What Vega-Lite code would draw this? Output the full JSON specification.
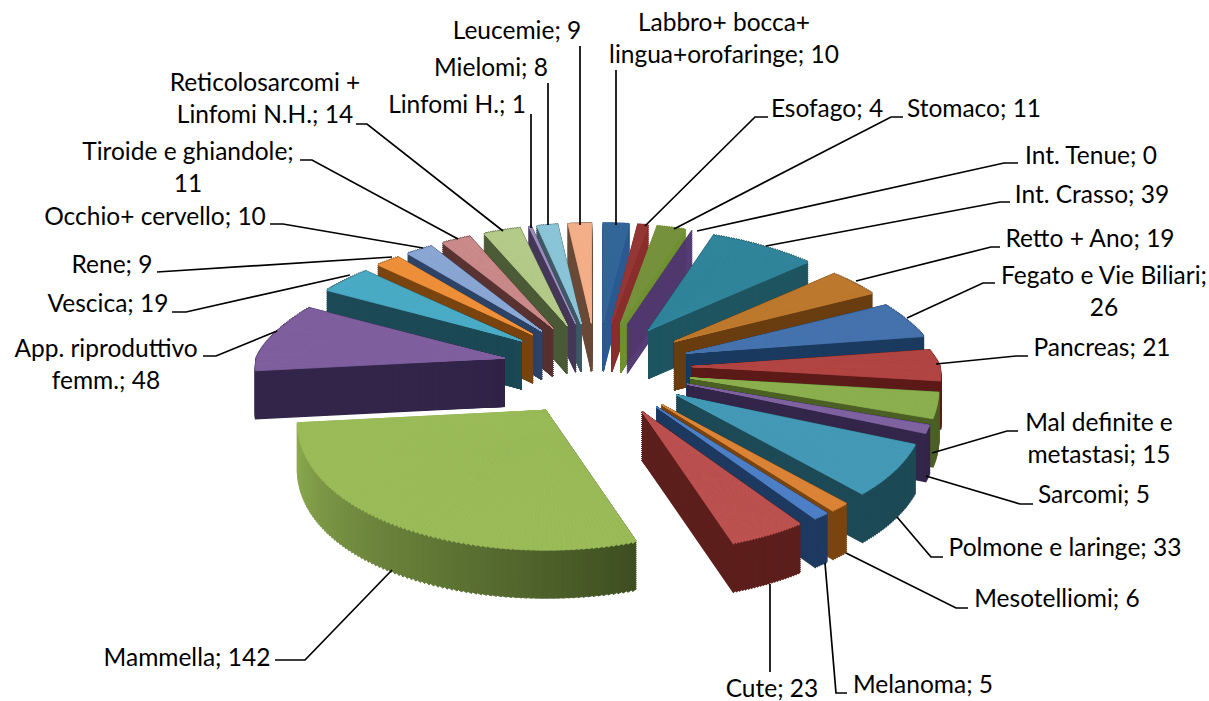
{
"$schema":"https://vega.github.io/schema/vega-lite/v6.json",
"width":1209,"height":701,"padding":0,"autosize":"none","background":"white",
"config":{"view":{"stroke":null}},
"params":[
{"name":"labelPos","value":{"Labbro":[724,24],"Esofago":[827,110],"Stomaco":[974,110],"Int. Tenue":[1091,157],"Int. Crasso":[1092,196],"Retto + Ano":[1090,240],"Fegato e Vie Biliari":[1104,277],"Pancreas":[1102,349],"Mal definite e metastasi":[1099,424],"Sarcomi":[1094,496],"Polmone e laringe":[1065,549],"Mesotelliomi":[1057,600],"Melanoma":[923,686],"Cute":[772,690],"Mammella":[187,659],"App. riproduttivo femm.":[106,350],"Vescica":[108,305],"Rene":[112,266],"Occhio+ cervello":[155,218],"Tiroide e ghiandole":[188,153],"Reticolosarcomi + Linfomi N.H.":[265,84],"Linfomi H.":[457,106],"Mielomi":[491,69],"Leucemie":[517,32]}},
{"name":"leaderPts","value":{"Labbro":[[616,70],[616,70],[616,225]],"Esofago":[[768,117],[755,117],[645,226]],"Stomaco":[[903,117],[891,117],[674,229]],"Int. Tenue":[[1018,163],[1004,163],[697,231]],"Int. Crasso":[[1010,202],[1000,202],[766,246]],"Retto + Ano":[[1000,247],[991,247],[856,281]],"Fegato e Vie Biliari":[[995,283],[983,283],[907,318]],"Pancreas":[[1028,356],[1016,356],[936,364]],"Mal definite e metastasi":[[1018,431],[1007,431],[932,453]],"Sarcomi":[[1033,504],[1020,504],[926,476]],"Polmone e laringe":[[943,557],[931,557],[897,517]],"Mesotelliomi":[[968,608],[956,608],[846,553]],"Melanoma":[[847,693],[836,693],[825,563]],"Cute":[[770,672],[770,672],[770,584]],"Mammella":[[275,660],[305,660],[392,570]],"App. riproduttivo femm.":[[203,356],[216,356],[277,331]],"Vescica":[[172,312],[186,312],[350,275]],"Rene":[[157,272],[157,272],[392,257]],"Occhio+ cervello":[[270,224],[283,224],[423,248]],"Tiroide e ghiandole":[[300,160],[312,160],[458,239]],"Reticolosarcomi + Linfomi N.H.":[[356,124],[367,124],[503,231]],"Linfomi H.":[[531,114],[531,114],[531,228]],"Mielomi":[[548,83],[548,83],[548,225]],"Leucemie":[[580,46],[580,46],[580,225]]}}
],
"datasets":{"slices":[
{"name":"Labbro","value":10,"label":"Labbro+ bocca+\nlingua+orofaringe; 10"},
{"name":"Esofago","value":4,"label":"Esofago; 4"},
{"name":"Stomaco","value":11,"label":"Stomaco; 11"},
{"name":"Int. Tenue","value":0,"label":"Int. Tenue; 0"},
{"name":"Int. Crasso","value":39,"label":"Int. Crasso; 39"},
{"name":"Retto + Ano","value":19,"label":"Retto + Ano; 19"},
{"name":"Fegato e Vie Biliari","value":26,"label":"Fegato e Vie Biliari;\n26"},
{"name":"Pancreas","value":21,"label":"Pancreas; 21"},
{"name":"Mal definite e metastasi","value":15,"label":"Mal definite e\nmetastasi; 15"},
{"name":"Sarcomi","value":5,"label":"Sarcomi; 5"},
{"name":"Polmone e laringe","value":33,"label":"Polmone e laringe; 33"},
{"name":"Mesotelliomi","value":6,"label":"Mesotelliomi; 6"},
{"name":"Melanoma","value":5,"label":"Melanoma; 5"},
{"name":"Cute","value":23,"label":"Cute; 23"},
{"name":"Mammella","value":142,"label":"Mammella; 142"},
{"name":"App. riproduttivo femm.","value":48,"label":"App. riproduttivo\nfemm.; 48"},
{"name":"Vescica","value":19,"label":"Vescica; 19"},
{"name":"Rene","value":9,"label":"Rene; 9"},
{"name":"Occhio+ cervello","value":10,"label":"Occhio+ cervello; 10"},
{"name":"Tiroide e ghiandole","value":11,"label":"Tiroide e ghiandole;\n11"},
{"name":"Reticolosarcomi + Linfomi N.H.","value":14,"label":"Reticolosarcomi +\nLinfomi N.H.; 14"},
{"name":"Linfomi H.","value":1,"label":"Linfomi H.; 1"},
{"name":"Mielomi","value":8,"label":"Mielomi; 8"},
{"name":"Leucemie","value":9,"label":"Leucemie; 9"}
]},
"data":{"name":"slices"},
"transform":[
{"stack":"value","groupby":[],"as":["s0","s1"]},
{"joinaggregate":[{"op":"sum","field":"value","as":"total"}]},
{"calculate":"datum.s0/datum.total*2*PI","as":"t0"},
{"calculate":"datum.s1/datum.total*2*PI","as":"t1"},
{"calculate":"(datum.t0+datum.t1)/2","as":"tc"},
{"calculate":"min(96,ceil(datum.value)+1)","as":"n"},
{"calculate":"597+95*sin(datum.tc)","as":"cx"},
{"calculate":"368-(cos(datum.tc)>0?45:50)*cos(datum.tc)","as":"cy"},
{"calculate":"[0,1,2,3,4,5,6,7,8,9,10,11,12,13,14,15,16,17,18,19,20,21,22,23,24,25,26,27,28,29,30,31,32,33,34,35,36,37,38,39,40,41,42,43,44,45,46,47,48,49,50,51,52,53,54,55,56,57,58,59,60,61,62,63,64,65,66,67,68,69,70,71,72,73,74,75,76,77,78,79,80,81,82,83,84,85,86,87,88,89,90,91,92,93,94,95]","as":"steps"},
{"flatten":["steps"],"as":["i"]},
{"filter":"datum.i<datum.n"},
{"calculate":"datum.t0+(datum.t1-datum.t0)*datum.i/datum.n","as":"ta"},
{"calculate":"datum.t0+(datum.t1-datum.t0)*(datum.i+1)/datum.n","as":"tb"},
{"calculate":"(datum.ta+datum.tb)/2","as":"tm"},
{"calculate":"atan2(248*sin(datum.ta)*(cos(datum.ta)>0?1-0.18*cos(datum.ta):1-0.08*cos(datum.ta)),(cos(datum.ta)>0?100:140)*cos(datum.ta))","as":"pa0"},
{"calculate":"atan2(248*sin(datum.tb)*(cos(datum.tb)>0?1-0.18*cos(datum.tb):1-0.08*cos(datum.tb)),(cos(datum.tb)>0?100:140)*cos(datum.tb))","as":"pb0"},
{"calculate":"datum.pa0<0?datum.pa0+2*PI:datum.pa0","as":"pa"},
{"calculate":"datum.pb0<0?datum.pb0+2*PI:datum.pb0","as":"pb"},
{"calculate":"sqrt(pow(248*sin(datum.tm)*(cos(datum.tm)>0?1-0.18*cos(datum.tm):1-0.08*cos(datum.tm)),2)+pow((cos(datum.tm)>0?100:140)*cos(datum.tm),2))","as":"r"}
],
"layer":[
{
"transform":[
{"filter":"datum.name!='Mammella'"},
{"calculate":"[48,46,44,42,40,38,36,34,32,30,28,26,24,22,20,18,16,14,12,10,8,6,4,2,0]","as":"depths"},
{"flatten":["depths"],"as":["d"]},
{"calculate":"datum.cy+datum.d","as":"yy"},
{"calculate":"-1000*cos(datum.tc)-datum.d","as":"z"}
],
"mark":{"type":"arc","strokeWidth":1.5},
"encoding":{
"x":{"field":"cx","type":"quantitative","scale":null,"axis":null},
"y":{"field":"yy","type":"quantitative","scale":null,"axis":null},
"theta":{"field":"pa","type":"quantitative","scale":null,"stack":null},
"theta2":{"field":"pb"},
"radius":{"field":"r","type":"quantitative","scale":null},
"order":{"field":"z","type":"quantitative"},
"color":{"field":"name","type":"nominal","legend":null,"scale":{"domain":["Labbro","Esofago","Stomaco","Int. Tenue","Int. Crasso","Retto + Ano","Fegato e Vie Biliari","Pancreas","Mal definite e metastasi","Sarcomi","Polmone e laringe","Mesotelliomi","Melanoma","Cute","App. riproduttivo femm.","Vescica","Rene","Occhio+ cervello","Tiroide e ghiandole","Reticolosarcomi + Linfomi N.H.","Linfomi H.","Mielomi","Leucemie"],"range":["#2C5A90","#8A2E2E","#70912F","#4F3570","#1E5560","#6A3D10","#1B3A5F","#5C1A18","#4C6026","#33264A","#1D4A56","#7A4510","#1E3A60","#5C1F1C","#33264A","#1D4A56","#7A4510","#2E4468","#5A3333","#4C5C38","#453858","#3E5A66","#6A4A38"]}},
"stroke":{"field":"name","type":"nominal","legend":null,"scale":{"domain":["Labbro","Esofago","Stomaco","Int. Tenue","Int. Crasso","Retto + Ano","Fegato e Vie Biliari","Pancreas","Mal definite e metastasi","Sarcomi","Polmone e laringe","Mesotelliomi","Melanoma","Cute","App. riproduttivo femm.","Vescica","Rene","Occhio+ cervello","Tiroide e ghiandole","Reticolosarcomi + Linfomi N.H.","Linfomi H.","Mielomi","Leucemie"],"range":["#2C5A90","#8A2E2E","#70912F","#4F3570","#1E5560","#6A3D10","#1B3A5F","#5C1A18","#4C6026","#33264A","#1D4A56","#7A4510","#1E3A60","#5C1F1C","#33264A","#1D4A56","#7A4510","#2E4468","#5A3333","#4C5C38","#453858","#3E5A66","#6A4A38"]}}
}
},
{
"transform":[
{"filter":"datum.name=='Mammella'"},
{"calculate":"[48,46,44,42,40,38,36,34,32,30,28,26,24,22,20,18,16,14,12,10,8,6,4,2,0]","as":"depths"},
{"flatten":["depths"],"as":["d"]},
{"calculate":"datum.cy+datum.d","as":"yy"},
{"calculate":"-datum.d","as":"z"},
{"calculate":"(datum.tm-datum.t0)/(datum.t1-datum.t0)","as":"f"},
{"calculate":"'rgb('+floor(63+80*datum.f)+','+floor(79+95*datum.f)+','+floor(34+48*datum.f)+')'","as":"shade"}
],
"mark":{"type":"arc","strokeWidth":1},
"encoding":{
"x":{"field":"cx","type":"quantitative","scale":null,"axis":null},
"y":{"field":"yy","type":"quantitative","scale":null,"axis":null},
"theta":{"field":"pa","type":"quantitative","scale":null,"stack":null},
"theta2":{"field":"pb"},
"radius":{"field":"r","type":"quantitative","scale":null},
"order":{"field":"z","type":"quantitative"},
"color":{"field":"shade","type":"nominal","scale":null,"legend":null},
"stroke":{"field":"shade","type":"nominal","scale":null,"legend":null}
}
},
{
"transform":[{"filter":"datum.value>0"}],
"mark":{"type":"arc","strokeWidth":0.8},
"encoding":{
"x":{"field":"cx","type":"quantitative","scale":null,"axis":null},
"y":{"field":"cy","type":"quantitative","scale":null,"axis":null},
"theta":{"field":"pa","type":"quantitative","scale":null,"stack":null},
"theta2":{"field":"pb"},
"radius":{"field":"r","type":"quantitative","scale":null},
"color":{"field":"name","type":"nominal","legend":null,"scale":{"domain":["Labbro","Esofago","Stomaco","Int. Crasso","Retto + Ano","Fegato e Vie Biliari","Pancreas","Mal definite e metastasi","Sarcomi","Polmone e laringe","Mesotelliomi","Melanoma","Cute","Mammella","App. riproduttivo femm.","Vescica","Rene","Occhio+ cervello","Tiroide e ghiandole","Reticolosarcomi + Linfomi N.H.","Linfomi H.","Mielomi","Leucemie"],"range":["#336699","#953735","#76923C","#31859C","#BE7A2E","#4674AE","#B24644","#8CB04F","#8064A2","#459BB7","#DC8538","#4F81C8","#BD5250","#9BBB59","#8060A0","#4BACC6","#F0913B","#8CA8D5","#CC8C8C","#B5CC8A","#A090C0","#8CC5D8","#F5B08A"]}},
"stroke":{"field":"name","type":"nominal","legend":null,"scale":{"domain":["Labbro","Esofago","Stomaco","Int. Crasso","Retto + Ano","Fegato e Vie Biliari","Pancreas","Mal definite e metastasi","Sarcomi","Polmone e laringe","Mesotelliomi","Melanoma","Cute","Mammella","App. riproduttivo femm.","Vescica","Rene","Occhio+ cervello","Tiroide e ghiandole","Reticolosarcomi + Linfomi N.H.","Linfomi H.","Mielomi","Leucemie"],"range":["#336699","#953735","#76923C","#31859C","#BE7A2E","#4674AE","#B24644","#8CB04F","#8064A2","#459BB7","#DC8538","#4F81C8","#BD5250","#9BBB59","#8060A0","#4BACC6","#F0913B","#8CA8D5","#CC8C8C","#B5CC8A","#A090C0","#8CC5D8","#F5B08A"]}}
}
},
{
"data":{"name":"slices"},
"transform":[
{"calculate":"[0,1,2]","as":"pts"},
{"flatten":["pts"],"as":["pt"]},
{"calculate":"leaderPts[datum.name][datum.pt][0]","as":"lx"},
{"calculate":"leaderPts[datum.name][datum.pt][1]","as":"ly"}
],
"mark":{"type":"line","color":"#000000","strokeWidth":1.7},
"encoding":{
"x":{"field":"lx","type":"quantitative","scale":null,"axis":null},
"y":{"field":"ly","type":"quantitative","scale":null,"axis":null},
"detail":{"field":"name"},
"order":{"field":"pt","type":"ordinal"}
}
},
{
"data":{"name":"slices"},
"transform":[
{"calculate":"labelPos[datum.name][0]","as":"tx"},
{"calculate":"labelPos[datum.name][1]","as":"ty"}
],
"mark":{"type":"text","font":"Lato","fontSize":24.5,"color":"#000000","align":"center","baseline":"middle","lineBreak":"\n","lineHeight":32},
"encoding":{
"x":{"field":"tx","type":"quantitative","scale":null,"axis":null},
"y":{"field":"ty","type":"quantitative","scale":null,"axis":null},
"text":{"field":"label"}
}
}
],
"resolve":{"scale":{"color":"independent","stroke":"independent","x":"independent","y":"independent"}}
}
